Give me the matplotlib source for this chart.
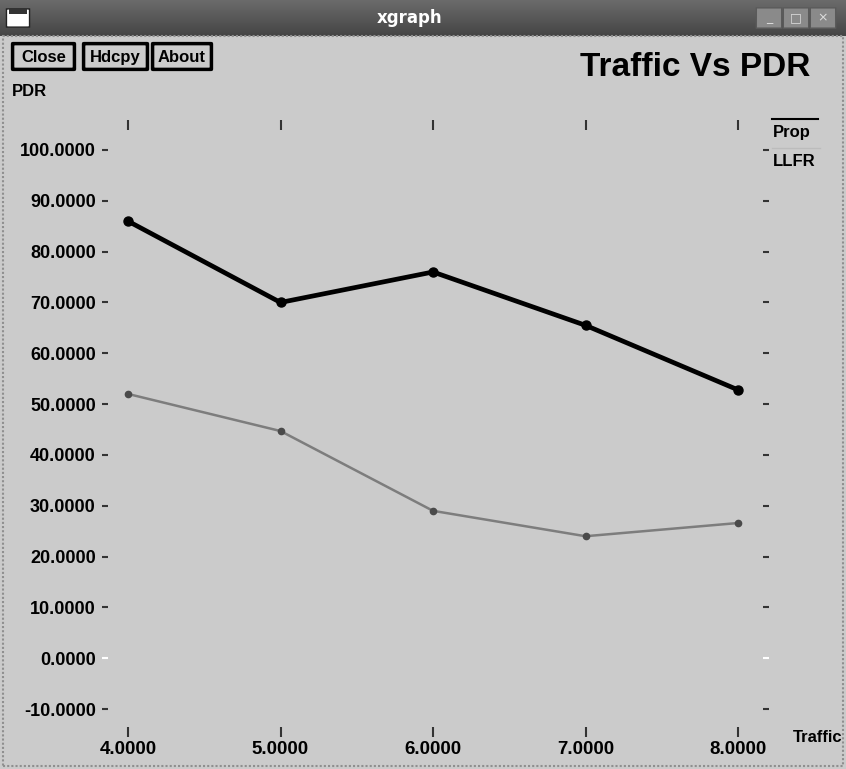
import numpy as np
import matplotlib
matplotlib.use('Agg')
import matplotlib.pyplot as plt
from matplotlib.patches import Rectangle, FancyBboxPatch
from matplotlib.transforms import blended_transform_factory

# PDR (%) against traffic load for the two protocols
traffic = [4, 5, 6, 7, 8]
prop_pdr = [86.0, 70.0, 76.0, 65.5, 52.8]
llfr_pdr = [52.0, 44.7, 29.0, 24.0, 26.6]
series_names = ['Prop', 'LLFR']
y_ticks = list(range(-10, 101, 10))
buttons = ['Close', 'Hdcpy', 'About']

W, H = 846, 769
plt.rcParams['font.family'] = ['Liberation Sans', 'DejaVu Sans']
fig = plt.figure(figsize=(W / 100, H / 100), dpi=100)
fig.patch.set_facecolor('#cbcbcb')


def fx(x):
    return x / W


def fy(y):
    return 1 - y / H


# window title bar
bar = fig.add_axes([0, fy(36), 1, 36 / H])
grad = np.linspace(0.42, 0.27, 50).reshape(-1, 1)
bar.imshow(grad, cmap='gray', vmin=0, vmax=1, aspect='auto', extent=[0, 1, 0, 1])
bar.set_xlim(0, 1)
bar.set_ylim(0, 1)
bar.axis('off')
bar.text(fx(410), 0.5, 'xgraph', color='white', fontsize=12, fontweight='bold',
         ha='center', va='center', family='DejaVu Sans')
bar.add_patch(FancyBboxPatch((fx(9), 0.25), fx(18), 0.5, boxstyle='round,pad=0.003',
                             fc='white', ec='#222222', lw=1))
bar.add_patch(Rectangle((fx(9), 0.62), fx(18), 0.13, fc='#333333', ec='none'))
for i, left in enumerate([758, 785, 812]):
    bar.add_patch(FancyBboxPatch((fx(left), 0.22), fx(22), 0.56, boxstyle='round,pad=0.002',
                                 fc='#8a8a8a', ec='#5a5a5a', lw=1))
    sym = ['_', '□', '×'][i]
    bar.text(fx(left + 11), 0.5, sym, color='#dddddd', fontsize=9, ha='center',
             va='center', family='DejaVu Sans')

# frame of the window body
fig.add_artist(Rectangle((fx(3), fy(766)), fx(840), (766 - 36) / H, transform=fig.transFigure,
                         fill=False, ec='#8f8f8f', lw=1.5, ls=(0, (1, 1))))

# buttons
for name, x0, x1 in zip(buttons, [13, 84, 153], [74, 147, 211]):
    fig.add_artist(FancyBboxPatch((fx(x0), fy(69)), fx(x1 - x0), 25 / H,
                                  boxstyle='round,pad=0.0005', transform=fig.transFigure,
                                  fc='#cccccc', ec='black', lw=2.5))
    fig.text(fx((x0 + x1) / 2), fy(62), name, fontsize=12, fontweight='bold',
             ha='center', va='baseline')

fig.text(fx(810), fy(67), 'Traffic Vs PDR', fontsize=24, fontweight='bold',
         ha='right', va='center')
fig.text(fx(12), fy(92), 'PDR', fontsize=12, fontweight='bold', ha='left', va='center')
fig.text(fx(793), fy(738), 'Traffic', fontsize=12, fontweight='bold', ha='left', va='center')

# plotting area
left_px, right_px, top_px, bottom_px = 102, 769, 120, 737
ax = fig.add_axes([fx(left_px), fy(bottom_px), fx(right_px - left_px),
                   (bottom_px - top_px) / H])
ax.set_facecolor('none')
ax.set_xlim(4 + (left_px - 128) / 152.5, 8 + (right_px - 738) / 152.5)
ax.set_ylim(100 - (bottom_px - 150) / 5.082, 100 + (150 - top_px) / 5.082)
for s in ax.spines.values():
    s.set_visible(False)

ax.set_xticks(traffic, [f'{v:.4f}' for v in traffic])
ax.tick_params(axis='x', bottom=True, top=True, direction='in', length=7, width=1.5,
               color='#333333', pad=3, labelsize=13.5)

# y labels from the axis, tick dashes drawn on both sides (white at zero)
ax.set_yticks(y_ticks, [f'{v:.4f}' for v in y_ticks])
ax.tick_params(axis='y', left=False, right=False, pad=1, labelsize=13)
for lab in ax.get_xticklabels() + ax.get_yticklabels():
    lab.set_fontweight('bold')

tick_frac = 6 / (right_px - left_px)
trans = blended_transform_factory(ax.transAxes, ax.transData)
for v in y_ticks:
    col = 'white' if v == 0 else '#333333'
    for x0, x1 in [(0, tick_frac), (1 - tick_frac, 1)]:
        ax.plot([x0, x1], [v, v], color=col, lw=1.5, transform=trans,
                clip_on=False, solid_capstyle='butt')

ax.plot(traffic, prop_pdr, color='black', lw=3.4, marker='o', ms=6.5,
        clip_on=False, label=series_names[0])
ax.plot(traffic, llfr_pdr, color='#7d7d7d', lw=1.8, marker='o', ms=4.5,
        mfc='#4a4a4a', mec='#4a4a4a', clip_on=False, label=series_names[1])

# legend entries with their line drawn above the name
fig.add_artist(plt.Line2D([fx(772), fx(818)], [fy(119), fy(119)], color='black', lw=1.5))
fig.text(fx(773), fy(133), series_names[0], fontsize=12, fontweight='bold', va='center')
fig.add_artist(plt.Line2D([fx(772), fx(820)], [fy(148), fy(148)], color='#bcbcbc', lw=1))
fig.text(fx(773), fy(162), series_names[1], fontsize=12, fontweight='bold', va='center')

fig.savefig('out.png', dpi=100, facecolor=fig.get_facecolor())
